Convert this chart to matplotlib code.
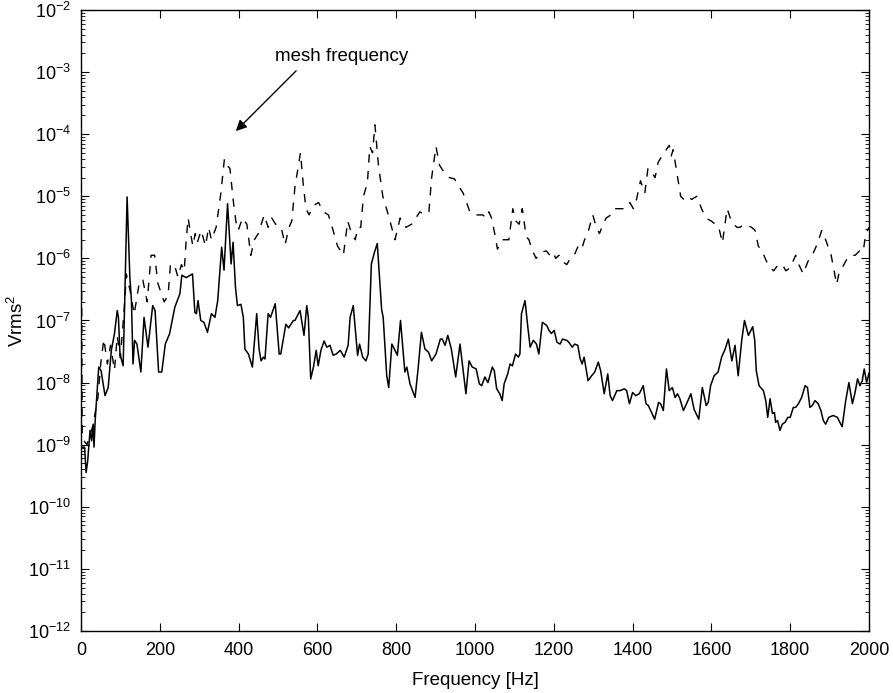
import numpy as np
import matplotlib
matplotlib.use("Agg")
import matplotlib.pyplot as plt
from matplotlib.ticker import LogLocator, NullFormatter

plt.rcParams['font.family'] = ['Liberation Sans', 'DejaVu Sans']
plt.rcParams['mathtext.fontset'] = 'custom'
plt.rcParams['mathtext.rm'] = 'Liberation Sans'
plt.rcParams['mathtext.it'] = 'Liberation Sans:italic'
plt.rcParams['mathtext.bf'] = 'Liberation Sans:bold'

# ---- solid trace: frequency [Hz] and log10(Vrms^2) ----
solid_f = [1, 9, 13, 17, 23, 27, 31, 33, 36, 41, 45, 51, 61, 69, 77, 85, 92, 95, 99, 107,
           111, 117, 124, 128, 132, 136, 142, 152, 160, 170, 182, 188, 197, 205, 214, 225, 238, 251, 256, 267,
           283, 289, 293, 297, 304, 312, 321, 331,
           340, 347, 357, 363, 372, 381, 386, 392, 397, 406, 412, 416, 425, 435, 446, 452, 457, 463, 467, 475,
           481, 493, 503, 507, 520, 527, 539, 543, 556, 566, 573, 577, 583, 590, 597, 602, 609, 617, 624, 632,
           640, 648, 658, 668, 678,
           683, 691, 702, 707, 715, 723, 729, 737, 744, 752, 763, 767, 776, 781, 789, 793, 803, 811, 822, 827,
           835, 848, 856, 864, 873, 882, 890, 901, 912, 917, 924, 931, 940, 951, 962, 970, 977, 985, 993, 1003,
           1011, 1017,
           1025, 1033, 1044, 1049, 1055, 1063, 1069, 1074, 1083, 1089, 1095, 1103, 1110, 1114, 1118, 1127, 1134, 1140, 1148, 1156,
           1162, 1171, 1182, 1188, 1194, 1201, 1208, 1216, 1222, 1233, 1238, 1247, 1253, 1261, 1267, 1272, 1277, 1287, 1296, 1304,
           1313, 1319, 1328, 1337, 1343, 1349, 1360,
           1368, 1379, 1385, 1392, 1400, 1408, 1417, 1427, 1434, 1440, 1448, 1456, 1466, 1471, 1478, 1486, 1493, 1501, 1508, 1514,
           1520, 1529, 1537, 1548, 1556, 1568, 1577, 1587, 1592, 1598, 1607, 1617, 1626, 1635, 1643, 1652, 1660, 1668, 1677, 1684,
           1694, 1705, 1710, 1714,
           1721, 1732, 1738, 1743, 1749, 1755, 1760, 1763, 1768, 1774, 1780, 1787, 1794, 1800, 1808, 1814, 1821, 1829, 1838, 1844,
           1850, 1856, 1863, 1871, 1878, 1884, 1890, 1898, 1909, 1920, 1926, 1932, 1941, 1949, 1958, 1964, 1971, 1977, 1983, 1988,
           1994, 2000]
solid_log = [-9.04, -9.04, -9.45, -9.26, -8.77, -8.94, -8.67, -9.04, -8.61, -8.13, -7.75, -7.81, -8.21, -8.08, -7.48, -7.21, -6.84, -6.95, -7.54, -7.73,
             -6.68, -5.01, -6.30, -6.68, -7.70, -7.32, -7.38, -7.83, -6.95, -7.43, -6.76, -6.84, -7.83, -7.83, -7.38, -7.21, -6.79, -6.57, -6.27, -6.31,
             -6.25, -6.87, -6.89, -6.68, -7.00, -7.03, -7.19, -6.89,
             -6.95, -6.68, -5.82, -6.19, -5.12, -6.09, -5.74, -6.46, -6.76, -6.74, -6.95, -7.46, -7.54, -7.75, -6.89, -7.46, -7.65, -7.59, -7.62, -6.89,
             -6.95, -6.73, -7.54, -7.54, -7.06, -7.12, -7.00, -7.00, -6.84, -7.24, -6.76, -6.95, -7.94, -7.75, -7.48, -7.73, -7.48, -7.33, -7.43, -7.40,
             -7.56, -7.54, -7.48, -7.59, -7.40,
             -6.95, -6.76, -7.56, -7.38, -7.59, -7.65, -7.54, -6.09, -5.92, -5.76, -6.82, -6.95, -7.89, -8.08, -7.38, -7.43, -7.56, -7.00, -7.83, -7.75,
             -8.02, -8.24, -7.75, -7.19, -7.46, -7.51, -7.65, -7.54, -7.30, -7.30, -7.40, -7.24, -7.46, -7.91, -7.38, -7.81, -8.18, -7.65, -7.75, -7.78,
             -8.02, -8.05,
             -7.91, -8.00, -7.75, -7.81, -8.10, -8.18, -8.29, -8.02, -7.86, -7.70, -7.73, -7.54, -7.59, -7.54, -6.89, -6.68, -7.10, -7.43, -7.32, -7.38,
             -7.54, -7.03, -7.08, -7.16, -7.21, -7.16, -7.35, -7.38, -7.30, -7.32, -7.35, -7.43, -7.38, -7.40, -7.62, -7.70, -7.59, -7.97, -7.89, -7.83,
             -7.67, -7.81, -8.18, -7.86, -8.21, -8.29, -8.13,
             -8.13, -8.10, -8.13, -8.34, -8.16, -8.21, -8.18, -8.05, -8.34, -8.37, -8.48, -8.59, -8.32, -8.34, -8.45, -7.78, -8.13, -8.08, -8.24, -8.18,
             -8.26, -8.45, -8.34, -8.18, -8.43, -8.59, -8.08, -8.37, -8.32, -8.05, -7.89, -7.83, -7.59, -7.46, -7.30, -7.65, -7.40, -7.89, -7.32, -7.00,
             -7.24, -7.10, -7.32, -7.81,
             -8.05, -8.13, -8.29, -8.56, -8.26, -8.50, -8.48, -8.64, -8.61, -8.77, -8.67, -8.64, -8.56, -8.56, -8.40, -8.40, -8.34, -8.24, -8.05, -8.08,
             -8.40, -8.37, -8.29, -8.34, -8.45, -8.61, -8.67, -8.56, -8.53, -8.56, -8.64, -8.71, -8.29, -8.00, -8.34, -8.18, -7.94, -8.05, -7.97, -7.78,
             -8.00, -7.85]

# ---- dashed trace: frequency [Hz] and log10(Vrms^2) ----
dashed_f = [0, 3, 15, 30, 43, 50, 58, 67, 75, 85, 92, 100, 111, 115, 124, 135, 149, 157, 168, 178,
            187, 195, 211, 221, 227, 237, 246, 255, 262, 267, 272, 278, 284, 290, 295, 305, 316, 324, 331, 343,
            355, 364, 370, 378, 387, 393, 399, 410, 421, 431, 440, 450, 465, 475, 484, 494, 508, 518, 528, 535,
            543, 557, 564, 571, 579, 590, 603, 615, 628, 640, 651, 666, 677, 687, 696, 703,
            710, 717, 727, 733, 740, 746, 755, 766, 780, 797, 810, 825, 839, 850, 860, 872, 883, 890, 901, 910,
            920, 935, 948, 960, 970, 987, 1000, 1013,
            1020, 1028, 1035, 1042, 1050, 1057, 1070, 1086, 1096, 1104, 1112, 1120, 1130, 1137, 1144, 1155, 1168, 1181, 1190, 1198,
            1205, 1213, 1222, 1233, 1242, 1252, 1262, 1271, 1278, 1286, 1299, 1308, 1316, 1325, 1333, 1345, 1354, 1364, 1379,
            1393, 1402, 1410, 1420, 1431, 1439, 1448, 1457, 1465, 1472, 1480, 1493, 1498, 1503, 1512, 1522, 1530, 1537, 1550, 1563,
            1575, 1586, 1600, 1610, 1618, 1628, 1640, 1648, 1656, 1665, 1672, 1685, 1702,
            1711, 1719, 1730, 1740, 1750, 1758, 1770, 1780, 1789, 1800, 1814, 1822, 1833, 1845, 1856, 1870, 1880, 1890, 1904, 1918,
            1925, 1932, 1945, 1954, 1965, 1976, 1985, 1992, 2000]
dashed_log = [-3.85, -8.90, -9.00, -8.70, -8.24, -7.70, -7.30, -7.70, -7.40, -7.80, -7.25, -7.60, -6.70, -6.25, -6.50, -6.90, -6.35, -6.35, -6.70, -5.95,
              -5.95, -6.40, -6.70, -6.60, -6.10, -6.10, -6.30, -6.10, -6.20, -5.70, -5.35, -5.60, -5.80, -5.60, -5.75, -5.55, -5.80, -5.50, -5.70, -5.50,
              -4.95, -4.40, -4.50, -4.55, -5.10, -5.40, -5.55, -5.35, -5.45, -5.95, -5.70, -5.60, -5.30, -5.50, -5.35, -5.45, -5.50, -5.78, -5.50, -5.40,
              -4.85, -4.30, -4.80, -5.20, -5.30, -5.15, -5.10, -5.25, -5.30, -5.55, -5.80, -5.95, -5.40, -5.60, -5.70, -5.50,
              -5.50, -5.00, -4.78, -4.20, -4.30, -3.85, -4.50, -5.00, -5.30, -5.70, -5.35, -5.50, -5.45, -5.35, -5.25, -5.30, -5.25, -4.70, -4.20, -4.50,
              -4.60, -4.70, -4.72, -4.85, -4.95, -5.25, -5.30, -5.30,
              -5.30, -5.35, -5.25, -5.35, -5.60, -5.85, -5.70, -5.70, -5.20, -5.40, -5.45, -5.20, -5.65, -5.70, -5.85, -6.00, -5.90, -5.88, -5.95, -5.90,
              -6.00, -5.95, -6.05, -6.10, -6.00, -5.95, -5.80, -5.85, -5.70, -5.60, -5.30, -5.50, -5.60, -5.45, -5.35, -5.30, -5.20, -5.20, -5.20,
              -5.10, -5.20, -5.05, -4.75, -4.95, -4.55, -4.60, -4.70, -4.45, -4.38, -4.30, -4.18, -4.35, -4.25, -4.60, -5.00, -5.05, -5.00, -5.05, -5.00,
              -5.20, -5.35, -5.40, -5.45, -5.48, -5.75, -5.20, -5.35, -5.45, -5.50, -5.50, -5.45, -5.50,
              -5.55, -5.80, -5.90, -6.05, -6.15, -6.20, -6.10, -6.10, -6.20, -6.15, -5.95, -6.10, -6.25, -6.05, -5.95, -5.75, -5.55, -5.70, -5.95, -6.42,
              -6.20, -6.15, -6.00, -5.95, -5.95, -5.88, -5.90, -5.60, -5.50]

assert len(solid_f) == len(solid_log), (len(solid_f), len(solid_log))
assert len(dashed_f) == len(dashed_log), (len(dashed_f), len(dashed_log))

x_ticks = [0, 200, 400, 600, 800, 1000, 1200, 1400, 1600, 1800, 2000]

fig = plt.figure(figsize=(8.93, 6.93), dpi=100)
ax = fig.add_axes([0.0907, 0.0895, 0.8824, 0.8961])

ax.plot(dashed_f, 10.0 ** np.asarray(dashed_log), color='black', lw=1.0,
        linestyle=(0, (6, 6)))
ax.plot(solid_f, 10.0 ** np.asarray(solid_log), color='black', lw=1.1)

ax.set_yscale('log')
ax.set_xlim(0, 2000)
ax.set_ylim(1e-12, 1e-2)
ax.set_xticks(x_ticks)
ax.yaxis.set_major_locator(LogLocator(base=10, numticks=20))
ax.yaxis.set_minor_locator(LogLocator(base=10, subs=np.arange(2, 10), numticks=100))
ax.yaxis.set_minor_formatter(NullFormatter())

ax.tick_params(which='both', direction='in', top=True, right=True, labelsize=13)
ax.tick_params(axis='x', which='major', pad=8)
ax.tick_params(axis='y', which='major', pad=7)
ax.tick_params(which='major', length=6, width=0.8)
ax.tick_params(which='minor', length=3, width=0.6)
for s in ax.spines.values():
    s.set_linewidth(1.0)

ax.set_xlabel('Frequency [Hz]', fontsize=13.5, labelpad=9)
ax.set_ylabel('Vrms$^2$', fontsize=13.5, labelpad=1)

ax.text(492, 10 ** -2.75, 'mesh frequency', fontsize=13.5, ha='left', va='center')
ax.annotate('', xy=(393, 10 ** -3.95), xytext=(546, 10 ** -2.98),
            arrowprops=dict(arrowstyle='-|>', color='black', lw=1.0,
                            mutation_scale=16, shrinkA=0, shrinkB=0))

fig.savefig('out.png', dpi=100)
